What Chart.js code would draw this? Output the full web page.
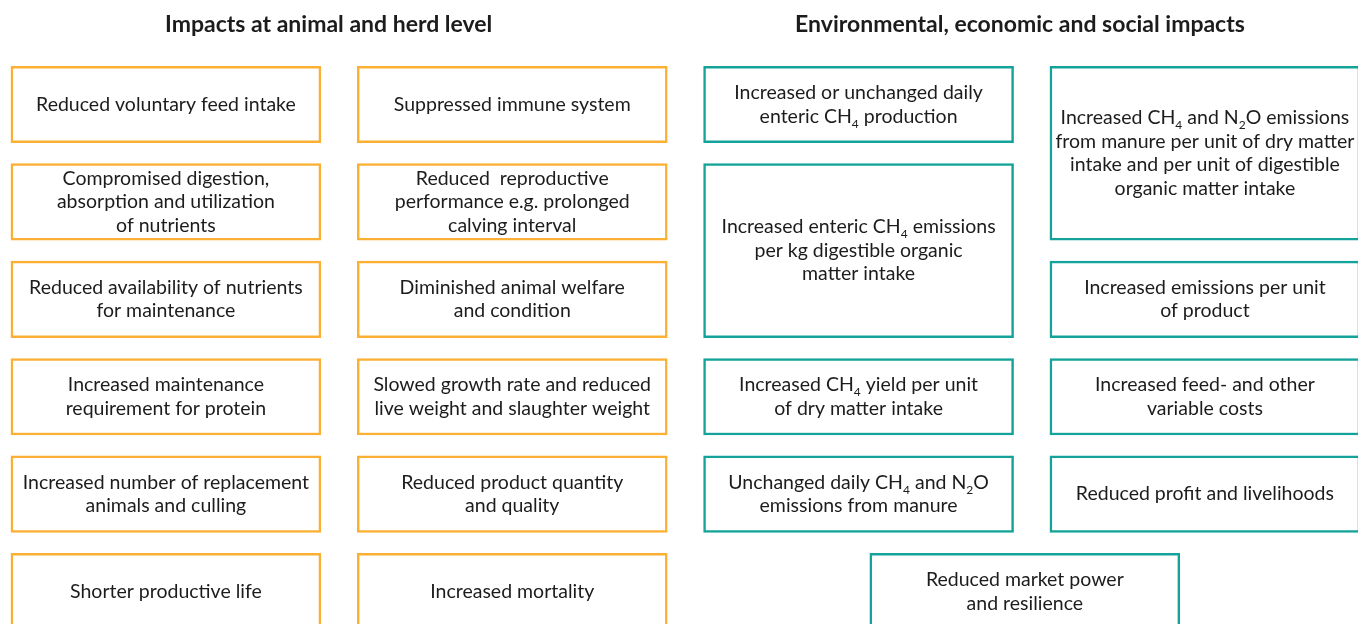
<!DOCTYPE html>
<html>
<head>
<meta charset="utf-8">
<script src="https://cdn.jsdelivr.net/npm/chart.js@4"></script>
<style>
  html, body { margin: 0; padding: 0; background: #ffffff; }
  #wrap { width: 1358px; height: 624px; position: relative; }
</style>
</head>
<body>
<div id="wrap"><canvas id="c" width="1358" height="624"></canvas></div>
<script>
// ---- Data (subscripts written as _X) ----
const groupTitles = ["Impacts at animal and herd level", "Environmental, economic and social impacts"];

const animalLabels = [
  ["Reduced voluntary feed intake"],
  ["Suppressed immune system"],
  ["Compromised digestion,", "absorption and utilization", "of nutrients"],
  ["Reduced  reproductive", "performance e.g. prolonged", "calving interval"],
  ["Reduced availability of nutrients", "for maintenance"],
  ["Diminished animal welfare", "and condition"],
  ["Increased maintenance", "requirement for protein"],
  ["Slowed growth rate and reduced", "live weight and slaughter weight"],
  ["Increased number of replacement", "animals and culling"],
  ["Reduced product quantity", "and quality"],
  ["Shorter productive life"],
  ["Increased mortality"]
];
const animalCol  = [0, 1, 0, 1, 0, 1, 0, 1, 0, 1, 0, 1];
const animalRow  = [0, 0, 1, 1, 2, 2, 3, 3, 4, 4, 5, 5];
const animalSpan = [1, 1, 1, 1, 1, 1, 1, 1, 1, 1, 1, 1];

const envLabels = [
  ["Increased or unchanged daily", "enteric CH_4 production"],
  ["Increased CH_4 and N_2O emissions", "from manure per unit of dry matter", "intake and per unit of digestible", "organic matter intake"],
  ["Increased enteric CH_4 emissions", "per kg digestible organic", "matter intake"],
  ["Increased emissions per unit", "of product"],
  ["Increased CH_4 yield per unit", "of dry matter intake"],
  ["Increased feed- and other", "variable costs"],
  ["Unchanged daily CH_4 and N_2O", "emissions from manure"],
  ["Reduced profit and livelihoods"],
  ["Reduced market power", "and resilience"]
];
const envCol  = [2, 3, 2, 3, 2, 3, 2, 3, 2.48];
const envRow  = [0, 0, 1, 2, 3, 3, 4, 4, 5];
const envSpan = [1, 2, 2, 1, 1, 1, 1, 1, 1];

// ---- Layout / style constants ----
const BOX_FILL = 0.785;          // fraction of a row occupied by a box
const TITLE_ANCHOR = [0.47, 2.466];
const ORANGE = "#FBB034";
const TEAL = "#13A39A";
const TEXT = "#1c1c1c";
const FONT = "Lato, 'Open Sans', sans-serif";
const BODY_SIZE = 19.5;
const TITLE_SIZE = 23;

function toPoints(cols, rows, spans) {
  return cols.map((c, i) => ({ x: c, y: [rows[i], rows[i] + spans[i] - 1 + BOX_FILL] }));
}

function drawRich(ctx, line, cx, cy, size) {
  const segs = [];
  let buf = "";
  for (let i = 0; i < line.length; i++) {
    if (line[i] === "_" && i + 1 < line.length) {
      if (buf) segs.push({ t: buf, sub: false });
      buf = "";
      segs.push({ t: line[i + 1], sub: true });
      i++;
    } else buf += line[i];
  }
  if (buf) segs.push({ t: buf, sub: false });
  const mainFont = size + "px " + FONT;
  const subFont = Math.round(size * 0.62) + "px " + FONT;
  let total = 0;
  segs.forEach(s => { ctx.font = s.sub ? subFont : mainFont; s.w = ctx.measureText(s.t).width; total += s.w; });
  let x = cx - total / 2;
  ctx.textAlign = "left";
  ctx.textBaseline = "middle";
  segs.forEach(s => {
    ctx.font = s.sub ? subFont : mainFont;
    ctx.fillText(s.t, x, s.sub ? cy + size * 0.38 : cy);
    x += s.w;
  });
}

const textPlugin = {
  id: "boxText",
  afterDatasetsDraw(chart) {
    const ctx = chart.ctx;
    ctx.save();
    ctx.fillStyle = TEXT;
    const allLabels = [animalLabels, envLabels];
    chart.data.datasets.forEach((ds, di) => {
      const meta = chart.getDatasetMeta(di);
      meta.data.forEach((el, i) => {
        const lines = allLabels[di][i];
        const cy = (el.y + el.base) / 2;
        const lh = 23.5;
        const start = cy - (lines.length - 1) * lh / 2;
        lines.forEach((ln, k) => drawRich(ctx, ln, el.x, start + k * lh, BODY_SIZE));
      });
    });
    const xs = chart.scales.x;
    ctx.font = "bold " + TITLE_SIZE + "px " + FONT;
    ctx.textAlign = "center";
    ctx.textBaseline = "middle";
    groupTitles.forEach((t, i) => ctx.fillText(t, xs.getPixelForValue(TITLE_ANCHOR[i]), 25));
    ctx.restore();
  }
};

new Chart(document.getElementById("c"), {
  type: "bar",
  data: {
    datasets: [
      {
        label: groupTitles[0],
        data: toPoints(animalCol, animalRow, animalSpan),
        backgroundColor: "#ffffff",
        borderColor: ORANGE,
        borderWidth: 2.5,
        borderSkipped: false
      },
      {
        label: groupTitles[1],
        data: toPoints(envCol, envRow, envSpan),
        backgroundColor: "#ffffff",
        borderColor: TEAL,
        borderWidth: 2.5,
        borderSkipped: false
      }
    ]
  },
  options: {
    responsive: false,
    animation: false,
    devicePixelRatio: 1,
    grouped: false,
    barThickness: 310,
    layout: { padding: 0 },
    plugins: { legend: { display: false }, tooltip: { enabled: false } },
    scales: {
      x: { type: "linear", offset: false, min: -0.479, max: 3.442, display: false },
      y: { type: "linear", reverse: true, min: -0.68, max: 5.725, display: false }
    }
  },
  plugins: [textPlugin]
});
</script>
</body>
</html>
